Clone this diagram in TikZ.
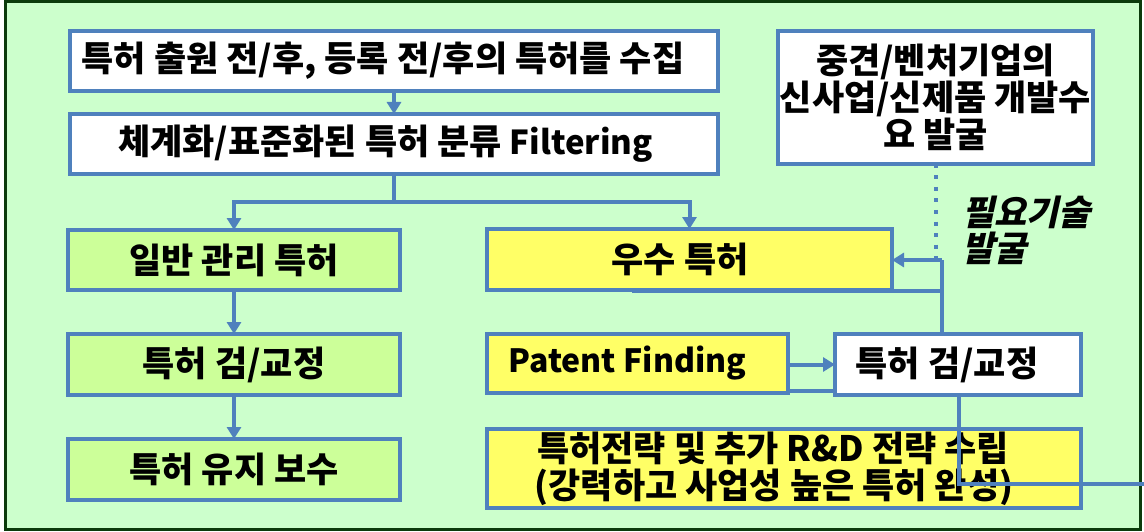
\documentclass[tikz,border=0pt]{standalone}
\usepackage{fontspec}
\setmainfont{Noto Sans CJK KR}
\newfontfamily\krsl{Noto Sans CJK KR}[FakeSlant=0.22]
\usetikzlibrary{arrows.meta}
\definecolor{bgfill}{HTML}{CCFFCC}
\definecolor{bgline}{HTML}{0B3B0B}
\definecolor{bblue}{HTML}{4F81BD}
\definecolor{gfill}{HTML}{CCFF99}
\definecolor{yfill}{HTML}{FFFF66}
\tikzset{
  x=1pt, y=-1pt,
  box/.style={draw=bblue, line width=4.5pt, inner sep=0pt, outer sep=0pt,
    font=\fontsize{35}{37}\selectfont\bfseries, text=black, align=center},
  wbox/.style={box, fill=white},
  gbox/.style={box, fill=gfill},
  ybox/.style={box, fill=yfill},
  conn/.style={draw=bblue, line width=4pt},
  arr/.style={conn, -{Triangle[length=12pt,width=14pt]}},
  dots/.style={draw=bblue, line width=4pt, dash pattern=on 4pt off 7.5pt},
}
\begin{document}
\begin{tikzpicture}
\useasboundingbox (0,0) rectangle (1144,532);
\fill[bgfill] (5,2) rectangle (1140,529);
\draw[bgline, line width=3pt] (5,2) rectangle (1140,529);

\node[wbox, minimum width=648pt, minimum height=60pt] (b1) at (394,61)
  {특허 출원 전/후, 등록 전/후의 특허를 수집\hspace*{22pt}};
\node[wbox, minimum width=648pt, minimum height=60pt] (b2) at (394,144)
  {체계화/표준화된 특허 분류 {\fontsize{33}{37}\selectfont Filtering}\hspace*{17pt}};
\node[gbox, minimum width=332pt, minimum height=60pt] (gen) at (234,260)
  {일반 관리 특허};
\node[gbox, minimum width=332pt, minimum height=61pt] (lchk) at (234,364.5)
  {특허 검/교정};
\node[gbox, minimum width=332pt, minimum height=61pt] (keep) at (234,469.5)
  {특허 유지 보수};
\node[wbox, minimum width=315pt, minimum height=133pt] (need) at (935.5,97.5)
  {중견/벤처기업의\\신사업/신제품 개발수\\요 발굴};
\node[ybox, minimum width=405pt, minimum height=61pt] (excel) at (689.5,259.5)
  {우수 특허\hspace*{19pt}};
\node[ybox, minimum width=301pt, minimum height=59pt, font=\fontsize{32}{37}\selectfont\bfseries] (pf) at (637.5,363.5)
  {Patent Finding\hspace*{20pt}};
\node[wbox, minimum width=246pt, minimum height=61pt] (rchk) at (958,364.5)
  {특허 검/교정\hspace*{22pt}};
\node[ybox, minimum width=594pt, minimum height=79pt] (strat) at (784,468.5)
  {\raisebox{4pt}{특허전략 및 추가 R\&D 전략 수립\hspace*{22pt}}\\\raisebox{4pt}{(강력하고 사업성 높은 특허 완성)\hspace*{20pt}}};

\node[anchor=west, align=left, inner sep=0pt, font=\krsl\fontsize{35}{36}\selectfont\bfseries] (lbl) at (962,230)
  {필요기술\\발굴};

\coordinate (split) at (394,202);
\coordinate (up) at (942,260);
\coordinate (bl0) at (632,291);
\coordinate (bl1) at (942,291);
\coordinate (pfb) at (788,391);
\coordinate (rcb) at (835,391);
\coordinate (exit) at (1144,484);
\coordinate (dotend) at (936,258);

\draw[arr] (b1) -- (b2);
\draw[conn] (b2.south) -- (split);
\draw[arr] (split) -| (gen.north);
\draw[arr] (split) -| (excel.north);
\draw[arr] (gen) -- (lchk);
\draw[arr] (lchk) -- (keep);
\draw[arr] (pf.east |- rchk.west) -- (rchk.west);
\draw[conn] (pfb) -- (rcb);
\draw[conn] (rchk.north -| up) -- (up);
\draw[arr] (up) -- (up -| excel.east);
\draw[conn] (bl0) -- (bl1);
\draw[dots] (need.south -| dotend) -- (dotend);
\draw[conn] (rchk.south -| 959,0) |- (exit);
\end{tikzpicture}
\end{document}
